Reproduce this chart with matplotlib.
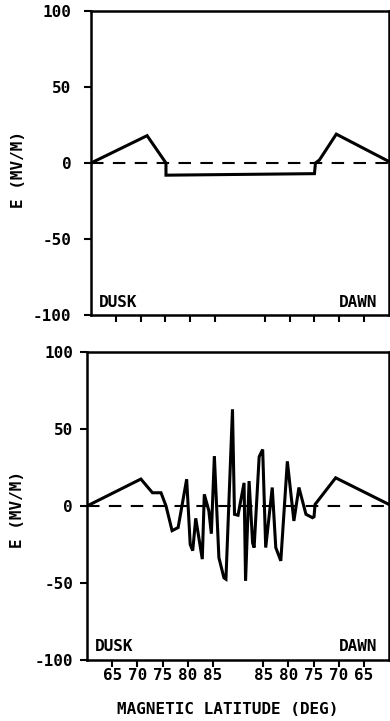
import matplotlib
matplotlib.use("Agg")
import matplotlib.pyplot as plt
import numpy as np

# distance along the pass in degrees, 0 = 60 deg dusk, 30 = pole, 60 = 60 deg dawn
top_pos = [0, 11.3, 15.1, 15.1, 45.0, 45.2, 46.0, 49.4, 60.0]
top_e = [0, 18, 0, -8, -7, 0, 2, 19, 1]

bot_pos = [0, 10.7, 13.0, 14.7, 15.7, 16.9, 18.1, 19.8, 20.5, 21.0, 21.6, 22.9,
           23.3, 24.2, 24.7, 25.3, 26.2, 27.2, 27.6, 28.9, 29.3, 30.0, 31.2, 31.5,
           32.2, 32.9, 33.2, 34.2, 34.9, 35.5, 36.8, 37.5, 38.5, 39.8, 41.1, 42.1,
           43.5, 44.8, 45.1, 45.3, 49.4, 60.0]
bot_e = [0, 17.5, 8.6, 8.6, 0, -16, -14, 17.4, -25, -29, -8, -34.5,
         7.6, -3, -18, 32.4, -33.5, -46.6, -47.5, 62.8, -5.4, -6, 15, -48.6,
         16.2, -24, -27, 32, 36.7, -27, 12, -27, -35.6, 29, -9.7, 12,
         -5.4, -7.6, -7, 1, 18.3, 1]

dusk_lats = [65, 70, 75, 80, 85]
dawn_lats = [85, 80, 75, 70, 65]
y_ticks = [-100, -50, 0, 50, 100]

tick_pos = [lat - 60 for lat in dusk_lats] + [120 - lat for lat in dawn_lats]
tick_lab = [str(l) for l in dusk_lats + dawn_lats]

font = dict(family="DejaVu Sans Mono", weight="bold")

fig = plt.figure(figsize=(3.9, 7.21), dpi=100)
ax1 = fig.add_axes([0.2333, 0.5631, 0.764, 0.4216])
ax2 = fig.add_axes([0.2231, 0.0846, 0.7744, 0.4272])

for ax, pos, e, pad in [(ax1, top_pos, top_e, 9), (ax2, bot_pos, bot_e, 5)]:
    ax.plot(pos, e, color="black", linewidth=2.2, solid_joinstyle="miter")
    ax.axhline(0, color="black", linewidth=1.5, dashes=(6, 4.5))
    ax.set_xlim(0, 60)
    ax.set_ylim(-100, 100)
    ax.set_yticks(y_ticks)
    ax.set_yticklabels([str(v) for v in y_ticks], fontsize=11.5, **font)
    ax.set_xticks(tick_pos)
    ax.tick_params(axis="y", direction="out", length=5, width=1.5, pad=pad)
    ax.tick_params(axis="x", direction="out", length=5, width=1.5, pad=1)
    for sp in ax.spines.values():
        sp.set_linewidth(1.8)
    ax.set_ylabel("E (MV/M)", fontsize=11.5, **font)
    ax.text(0.025, 0.018, "DUSK", transform=ax.transAxes, fontsize=11.5,
            ha="left", va="bottom", **font)
    ax.text(0.96, 0.018, "DAWN", transform=ax.transAxes, fontsize=11.5,
            ha="right", va="bottom", **font)

ax1.yaxis.set_label_coords(-0.217, 0.48)
ax2.yaxis.set_label_coords(-0.205, 0.49)

ax1.set_xticklabels([])
ax2.set_xticklabels(tick_lab, fontsize=11.5, **font)
ax2.set_xlabel("MAGNETIC LATITUDE (DEG)", fontsize=11.5, **font)
ax2.xaxis.set_label_coords(0.467, -0.135)

fig.savefig("out.png", dpi=100)
